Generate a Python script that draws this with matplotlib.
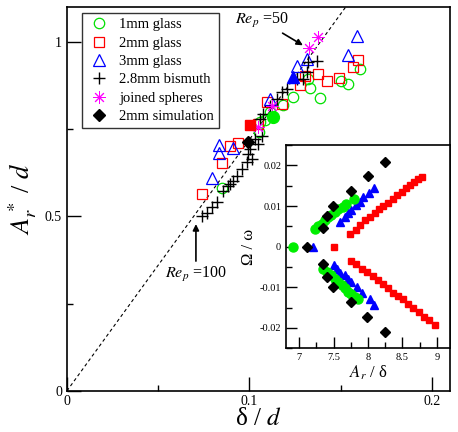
import matplotlib
matplotlib.use("Agg")
import matplotlib.pyplot as plt
from matplotlib.ticker import MultipleLocator, FormatStrFormatter

plt.rcParams['font.family'] = ['Liberation Serif', 'DejaVu Serif']
plt.rcParams['mathtext.fontset'] = 'stix'

# main panel: A_r*/d versus delta/d
glass1_x = [0.0849, 0.1052, 0.1058, 0.1085, 0.1112, 0.1184, 0.1238, 0.1321, 0.1332, 0.1386, 0.1501, 0.1540, 0.1605]
glass1_y = [0.580, 0.741, 0.770, 0.776, 0.799, 0.819, 0.842, 0.894, 0.868, 0.839, 0.888, 0.879, 0.922]

glass2_x = [0.0740, 0.0849, 0.0893, 0.0937, 0.1047, 0.1096, 0.1178, 0.1277, 0.1304, 0.1375, 0.1425, 0.1490, 0.1567, 0.1595]
glass2_y = [0.563, 0.652, 0.701, 0.710, 0.764, 0.828, 0.822, 0.876, 0.902, 0.908, 0.888, 0.897, 0.928, 0.948]

glass3_x = [0.0795, 0.0833, 0.0833, 0.0910, 0.1112, 0.1260, 0.1315, 0.1540, 0.1589]
glass3_y = [0.609, 0.681, 0.704, 0.695, 0.836, 0.931, 0.951, 0.963, 1.017]

bismuth_x = [0.0740, 0.0767, 0.0795, 0.0822, 0.0855, 0.0882, 0.0893, 0.0910, 0.0932, 0.0959, 0.0986,
             0.0992, 0.1003, 0.1014, 0.1030, 0.1047, 0.1068, 0.1058, 0.1074, 0.1112, 0.1151, 0.1178,
             0.1205, 0.1260, 0.1293, 0.1315, 0.1321, 0.1370]
bismuth_y = [0.500, 0.511, 0.526, 0.540, 0.572, 0.586, 0.592, 0.601, 0.615, 0.635, 0.655,
             0.678, 0.693, 0.664, 0.721, 0.707, 0.730, 0.779, 0.793, 0.816, 0.836, 0.856,
             0.865, 0.894, 0.894, 0.914, 0.943, 0.945]

joined_x = [0.1047, 0.1123, 0.1326, 0.1375]
joined_y = [0.755, 0.816, 0.983, 1.014]

sim2_x = [0.0992]
sim2_y = [0.713]

# other simulation points (filled, not in legend)
sim1_x, sim1_y = [0.1129], [0.784]
sim2sq_x, sim2sq_y = [0.1003], [0.761]
sim3_x, sim3_y = [0.1238], [0.899]

slope = 7.2

# inset: Omega/omega versus A_r/delta
in_green_x = [6.91, 7.23, 7.28, 7.33, 7.38, 7.42, 7.47, 7.52, 7.57, 7.63, 7.68, 7.79,
              7.35, 7.41, 7.47, 7.52, 7.57, 7.62, 7.67, 7.71, 7.76, 7.81, 7.85]
in_green_y = [0.0, 0.0043, 0.0051, 0.0057, 0.0065, 0.0072, 0.0078, 0.0086, 0.0093, 0.0098, 0.0104, 0.0117,
              -0.0054, -0.0062, -0.0070, -0.0079, -0.0087, -0.0095, -0.0103, -0.0112, -0.0117, -0.0124, -0.0130]

in_blue_x = [7.20, 7.60, 7.66, 7.71, 7.76, 7.82, 7.88, 7.93, 8.01, 8.08,
             7.50, 7.55, 7.59, 7.67, 7.71, 7.76, 7.84, 7.92, 8.03, 8.09]
in_blue_y = [0.0, 0.0060, 0.0072, 0.0083, 0.0091, 0.0102, 0.0111, 0.0122, 0.0133, 0.0145,
             -0.0046, -0.0054, -0.0066, -0.0070, -0.0079, -0.0088, -0.0099, -0.0113, -0.0128, -0.0143]

in_red_x = [7.51,
            7.74, 7.83, 7.88, 7.96, 8.03, 8.10, 8.16, 8.22, 8.29, 8.36, 8.42, 8.49, 8.55, 8.61, 8.67, 8.73, 8.79,
            7.75, 7.83, 7.91, 7.99, 8.07, 8.15, 8.22, 8.29, 8.37, 8.44, 8.51, 8.58, 8.66, 8.74, 8.81, 8.89, 8.97]
in_red_y = [0.0,
            0.0030, 0.0042, 0.0053, 0.0065, 0.0072, 0.0082, 0.0092, 0.0100, 0.0108, 0.0117, 0.0127, 0.0135,
            0.0144, 0.0152, 0.0160, 0.0166, 0.0172,
            -0.0035, -0.0042, -0.0054, -0.0062, -0.0073, -0.0083, -0.0093, -0.0103, -0.0114, -0.0122,
            -0.0130, -0.0142, -0.0150, -0.0161, -0.0172, -0.0181, -0.0192]

in_black_x = [7.12, 7.35, 7.40, 7.49, 7.75, 8.00, 8.25, 7.35, 7.40, 7.49, 7.75, 7.99, 8.25]
in_black_y = [0.0, 0.0046, 0.0075, 0.0100, 0.0137, 0.0174, 0.0209, -0.0043, -0.0075, -0.0100, -0.0137, -0.0174, -0.0209]

fig = plt.figure(figsize=(4.58, 4.32), dpi=100)
ax = fig.add_axes([0.146, 0.095, 0.837, 0.889])

ax.plot([0, 0.2], [0, slope * 0.2], ls=(0, (3, 2.5)), color='black', lw=0.8)

ax.plot(glass1_x, glass1_y, 'o', ms=7.5, mfc='none', mec='#00e000', mew=0.9, ls='none', label='1mm glass')
ax.plot(glass2_x, glass2_y, 's', ms=7.5, mfc='none', mec='#ff0000', mew=0.9, ls='none', label='2mm glass')
ax.plot(glass3_x, glass3_y, '^', ms=8, mfc='none', mec='#0000ff', mew=0.9, ls='none', label='3mm glass')
ax.plot(bismuth_x, bismuth_y, '+', ms=9, mec='black', mew=1.0, ls='none', label='2.8mm bismuth')
ax.plot(joined_x, joined_y, marker=(8, 2, 0), ms=9, mec='#ff00ff', mew=0.7, ls='none', label='joined spheres')
ax.plot(sim2_x, sim2_y, 'D', ms=6.5, mfc='black', mec='black', ls='none', label='2mm simulation')
ax.plot(sim1_x, sim1_y, 'o', ms=8.5, mfc='#00ee00', mec='#00ee00', ls='none')
ax.plot(sim2sq_x, sim2sq_y, 's', ms=7.5, mfc='#ff0000', mec='#ff0000', ls='none')
ax.plot(sim3_x, sim3_y, '^', ms=8.5, mfc='#0000ff', mec='#0000ff', ls='none')

ax.set_xlim(0, 0.21)
ax.set_ylim(0, 1.1)
ax.xaxis.set_major_locator(MultipleLocator(0.1))
ax.xaxis.set_minor_locator(MultipleLocator(0.05))
ax.yaxis.set_major_locator(MultipleLocator(0.5))
ax.yaxis.set_minor_locator(MultipleLocator(0.25))
ax.xaxis.set_major_formatter(FormatStrFormatter('%g'))
ax.yaxis.set_major_formatter(FormatStrFormatter('%g'))
ax.tick_params(which='both', direction='in', top=False, right=False, labelsize=10, width=1)
ax.tick_params(which='major', length=10)
ax.tick_params(which='minor', length=4.5)
ax.tick_params(axis='x', pad=3)
for s in ax.spines.values():
    s.set_linewidth(1.2)

ax.set_xlabel('δ / $d$', fontsize=18, labelpad=0)
ax.set_ylabel('$A_r^*$ / $d$', fontsize=19, labelpad=4)

leg = ax.legend(loc='upper left', bbox_to_anchor=(0.039, 0.984), borderaxespad=0, fontsize=10.5,
                frameon=True, fancybox=False, edgecolor='black', handletextpad=0.6,
                labelspacing=0.35, handlelength=1.6, borderpad=0.35)
leg.get_frame().set_linewidth(1.0)

ax.annotate('$Re_p$ =50', xy=(0.1293, 0.99), xytext=(0.0922, 1.06), fontsize=11.5,
            va='center', ha='left',
            arrowprops=dict(arrowstyle='-|>', color='black', lw=1.2, shrinkA=0, shrinkB=0,
                            mutation_scale=9),
            annotation_clip=False)
ax.annotate('$Re_p$ =100', xy=(0.0707, 0.478), xytext=(0.0707, 0.36), fontsize=11.5,
            va='top', ha='center',
            arrowprops=dict(arrowstyle='-|>', color='black', lw=1.2, shrinkA=1, shrinkB=0,
                            mutation_scale=9))

# inset
ins = fig.add_axes([0.6245, 0.194, 0.358, 0.470])
ins.plot(in_red_x, in_red_y, 's', ms=5, mfc='#ff0000', mec='#ff0000', ls='none')
ins.plot(in_blue_x, in_blue_y, '^', ms=5.5, mfc='#0000ff', mec='#0000ff', ls='none')
ins.plot(in_green_x, in_green_y, 'o', ms=6.5, mfc='#00ee00', mec='#00ee00', ls='none')
ins.plot(in_black_x, in_black_y, 'D', ms=4.8, mfc='black', mec='black', ls='none')
ins.set_xlim(6.81, 9.19)
ins.set_ylim(-0.025, 0.025)
ins.xaxis.set_major_locator(MultipleLocator(0.5))
ins.xaxis.set_minor_locator(MultipleLocator(0.25))
ins.yaxis.set_major_locator(MultipleLocator(0.01))
ins.yaxis.set_minor_locator(MultipleLocator(0.005))
ins.xaxis.set_major_formatter(FormatStrFormatter('%g'))
ins.yaxis.set_major_formatter(FormatStrFormatter('%g'))
ins.tick_params(which='both', direction='in', top=False, right=False, labelsize=7.5, width=1)
ins.tick_params(which='major', length=8)
ins.tick_params(which='minor', length=4)
for s in ins.spines.values():
    s.set_linewidth(1.2)
ins.set_xlabel('$A_r$ / δ', fontsize=12, labelpad=1)
ins.set_ylabel('Ω / ω', fontsize=12, labelpad=2)

fig.savefig('out.png', dpi=100)
